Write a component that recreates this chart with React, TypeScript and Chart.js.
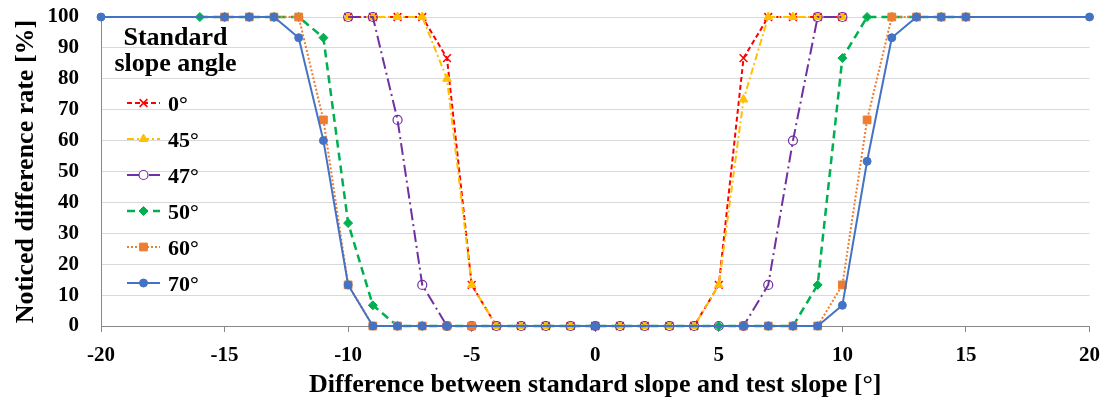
import React, { useEffect, useRef } from 'react';
import { Chart, registerables } from 'chart.js';
import { drawPoint } from 'chart.js/helpers';

Chart.register(...registerables);

// ---- data ----
const seriesLabels = ['0°', '45°', '47°', '50°', '60°', '70°'];

const slope0X = [-10, -9, -8, -7, -6, -5, -4, -3, -2, -1, 0, 1, 2, 3, 4, 5, 6, 7, 8, 9, 10];
const slope0Y = [100, 100, 100, 100, 86.7, 13.3, 0, 0, 0, 0, 0, 0, 0, 0, 0, 13.3, 86.7, 100, 100, 100, 100];

const slope45X = [-10, -9, -8, -7, -6, -5, -4, -3, -2, -1, 0, 1, 2, 3, 4, 5, 6, 7, 8, 9, 10];
const slope45Y = [100, 100, 100, 100, 80, 13.3, 0, 0, 0, 0, 0, 0, 0, 0, 0, 13.3, 73.3, 100, 100, 100, 100];

const slope47X = [-10, -9, -8, -7, -6, -5, -4, -3, -2, -1, 0, 1, 2, 3, 4, 5, 6, 7, 8, 9, 10];
const slope47Y = [100, 100, 66.7, 13.3, 0, 0, 0, 0, 0, 0, 0, 0, 0, 0, 0, 0, 0, 13.3, 60, 100, 100];

const slope50X = [-16, -15, -14, -13, -12, -11, -10, -9, -8, -7, -6, -5, 5, 6, 7, 8, 9, 10, 11, 12, 13, 14, 15];
const slope50Y = [100, 100, 100, 100, 100, 93.3, 33.3, 6.7, 0, 0, 0, 0, 0, 0, 0, 0, 13.3, 86.7, 100, 100, 100, 100, 100];

const slope60X = [-15, -14, -13, -12, -11, -10, -9, -8, -7, -6, -5, 6, 7, 8, 9, 10, 11, 12, 13, 14, 15];
const slope60Y = [100, 100, 100, 100, 66.7, 13.3, 0, 0, 0, 0, 0, 0, 0, 0, 0, 13.3, 66.7, 100, 100, 100, 100];

const slope70X = [-20, -15, -14, -13, -12, -11, -10, -9, -8, -7, -6, 0, 6, 7, 8, 9, 10, 11, 12, 13, 14, 15, 20];
const slope70Y = [100, 100, 100, 100, 93.3, 60, 13.3, 0, 0, 0, 0, 0, 0, 0, 0, 0, 6.7, 53.3, 93.3, 100, 100, 100, 100];

const xTickStep = 5;
const yTickStep = 10;
const xMin = -20;
const xMax = 20;
const yMin = 0;
const yMax = 100;

const xTitle = 'Difference between standard slope and test slope [°]';
const yTitle = 'Noticed difference rate [%]';
const legendTitle = ['Standard', 'slope angle'];

const FONT = '"Liberation Serif", "Times New Roman", serif';

const toPoints = (xs: number[], ys: number[]) => xs.map((x, i) => ({ x, y: ys[i] }));

const legendPlugin = {
  id: 'inlineLegend',
  afterDraw(chart: any) {
    const ctx = chart.ctx as CanvasRenderingContext2D;
    ctx.save();
    ctx.fillStyle = '#000';
    ctx.font = `bold 26px ${FONT}`;
    ctx.textAlign = 'center';
    ctx.textBaseline = 'alphabetic';
    ctx.fillText(legendTitle[0], 175.5, 45);
    ctx.fillText(legendTitle[1], 175.5, 70.5);
    chart.data.datasets.forEach((ds: any, i: number) => {
      const y = 103 + i * 36;
      ctx.save();
      ctx.setLineDash(ds.borderDash || []);
      ctx.strokeStyle = ds.borderColor;
      ctx.lineWidth = ds.borderWidth;
      ctx.lineCap = ds.borderCapStyle || 'butt';
      ctx.beginPath();
      ctx.moveTo(127, y);
      ctx.lineTo(160, y);
      ctx.stroke();
      ctx.restore();
      ctx.save();
      ctx.setLineDash([]);
      ctx.fillStyle = ds.pointBackgroundColor === 'rgba(0,0,0,0)' ? '#fff' : ds.pointBackgroundColor;
      ctx.strokeStyle = ds.pointBorderColor;
      ctx.lineWidth = ds.pointBorderWidth;
      drawPoint(ctx, { pointStyle: ds.pointStyle, radius: ds.pointRadius, rotation: 0, borderWidth: ds.pointBorderWidth } as any, 143.5, y);
      ctx.restore();
      ctx.fillStyle = '#000';
      ctx.font = `bold 22px ${FONT}`;
      ctx.textAlign = 'left';
      ctx.textBaseline = 'alphabetic';
      ctx.fillText(ds.label, 168, y + 7.5);
    });
    ctx.restore();
  },
};

export default function App() {
  const ref = useRef<HTMLCanvasElement>(null);

  useEffect(() => {
    if (!ref.current) return;
    const common = { showLine: true, fill: false, tension: 0, clip: false as any };
    const chart = new Chart(ref.current, {
      type: 'line',
      data: {
        datasets: [
          {
            ...common,
            label: seriesLabels[0],
            data: toPoints(slope0X, slope0Y),
            borderColor: '#FF0000',
            borderWidth: 2,
            borderDash: [5, 3],
            pointStyle: 'crossRot',
            pointRadius: 5.5,
            pointBackgroundColor: '#FF0000',
            pointBorderColor: '#FF0000',
            pointBorderWidth: 1.5,
            order: 5,
          },
          {
            ...common,
            label: seriesLabels[1],
            data: toPoints(slope45X, slope45Y),
            borderColor: '#FFC000',
            borderWidth: 2,
            borderDash: [7, 3, 2, 3],
            pointStyle: 'triangle',
            pointRadius: 5,
            pointBackgroundColor: '#FFC000',
            pointBorderColor: '#FFC000',
            pointBorderWidth: 1,
            order: 4,
          },
          {
            ...common,
            label: seriesLabels[2],
            data: toPoints(slope47X, slope47Y),
            borderColor: '#7030A0',
            borderWidth: 2,
            borderDash: [12, 4, 2, 4],
            pointStyle: 'circle',
            pointRadius: 4.5,
            pointBackgroundColor: 'rgba(0,0,0,0)',
            pointBorderColor: '#7030A0',
            pointBorderWidth: 1.2,
            order: 3,
          },
          {
            ...common,
            label: seriesLabels[3],
            data: toPoints(slope50X, slope50Y),
            borderColor: '#00B050',
            borderWidth: 2.5,
            borderDash: [8, 5],
            pointStyle: 'rectRot',
            pointRadius: 4.5,
            pointBackgroundColor: '#00B050',
            pointBorderColor: '#00B050',
            pointBorderWidth: 1,
            order: 2,
          },
          {
            ...common,
            label: seriesLabels[4],
            data: toPoints(slope60X, slope60Y),
            borderColor: '#ED7D31',
            borderWidth: 2,
            borderDash: [2, 2],
            pointStyle: 'rect',
            pointRadius: 5.5,
            pointBackgroundColor: '#ED7D31',
            pointBorderColor: '#ED7D31',
            pointBorderWidth: 1,
            order: 1,
          },
          {
            ...common,
            label: seriesLabels[5],
            data: toPoints(slope70X, slope70Y),
            borderColor: '#4472C4',
            borderWidth: 2,
            borderDash: [],
            pointStyle: 'circle',
            pointRadius: 4,
            pointBackgroundColor: '#4472C4',
            pointBorderColor: '#4472C4',
            pointBorderWidth: 1,
            order: 0,
          },
        ] as any,
      },
      options: {
        animation: false,
        responsive: false,
        maintainAspectRatio: false,
        layout: { padding: { top: 17, right: 20, left: 0, bottom: 0 } },
        plugins: {
          legend: { display: false },
          tooltip: { enabled: false },
        },
        scales: {
          x: {
            type: 'linear',
            min: xMin,
            max: xMax,
            ticks: {
              stepSize: xTickStep,
              color: '#000',
              padding: 11,
              font: { family: FONT, size: 21, weight: 'bold' },
              maxRotation: 0,
            },
            grid: { drawOnChartArea: false, drawTicks: true, tickLength: 6, color: '#898989', lineWidth: 1 },
            border: { display: true, color: '#898989', width: 1 },
            title: {
              display: true,
              text: xTitle,
              color: '#000',
              font: { family: FONT, size: 26, weight: 'bold' },
              padding: { top: 0, bottom: 0 },
            },
            afterFit: (scale: any) => {
              scale.height = 75;
            },
          },
          y: {
            type: 'linear',
            min: yMin,
            max: yMax,
            ticks: {
              stepSize: yTickStep,
              color: '#000',
              padding: 22,
              font: { family: FONT, size: 21, weight: 'bold' },
            },
            grid: { drawTicks: false, color: '#d9d9d9', lineWidth: 1 },
            border: { display: true, color: '#898989', width: 1 },
            title: {
              display: true,
              text: yTitle,
              color: '#000',
              font: { family: FONT, size: 26, weight: 'bold' },
              padding: { top: 11, bottom: 0 },
            },
            afterFit: (scale: any) => {
              scale.width = 101;
              scale.paddingTop = 0;
              scale.paddingBottom = 0;
            },
          },
        },
      } as any,
      plugins: [legendPlugin],
    });
    return () => chart.destroy();
  }, []);

  return (
    <div style={{ position: 'absolute', left: 0, top: 0, width: 1111, height: 401, background: '#fff' }}>
      <canvas ref={ref} width={1111} height={401} style={{ display: 'block' }} />
    </div>
  );
}
